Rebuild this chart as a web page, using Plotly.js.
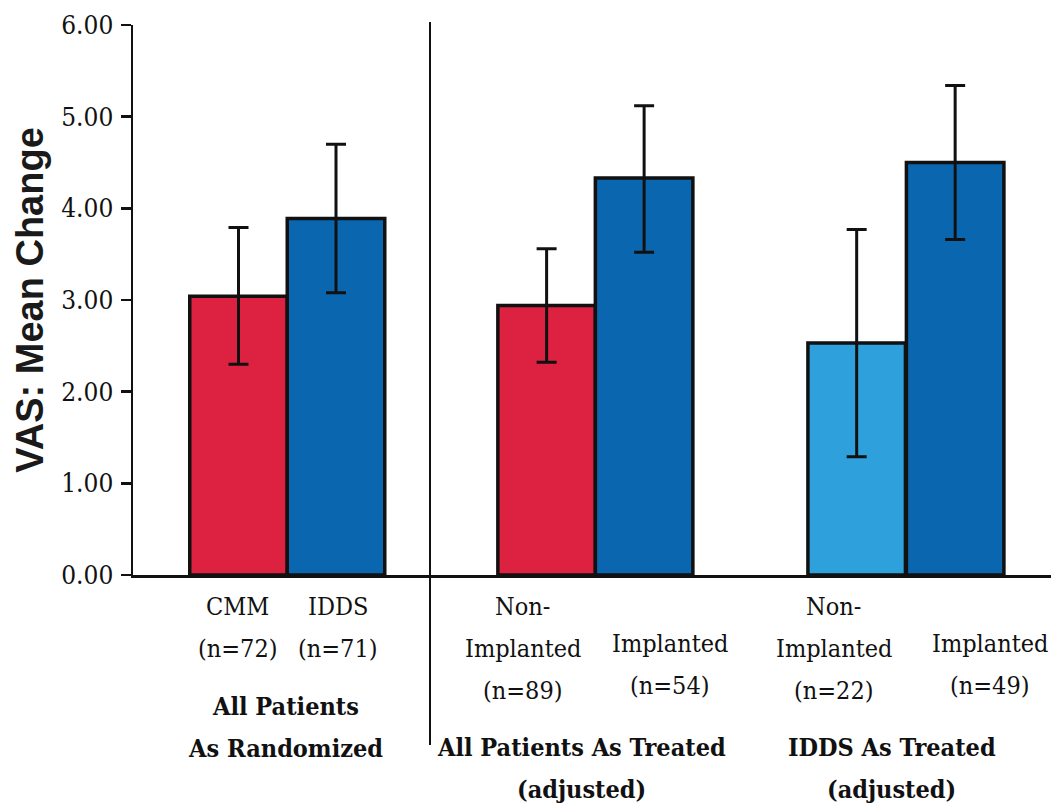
<!DOCTYPE html>
<html>
<head>
<meta charset="utf-8">
<script src="https://cdn.plot.ly/plotly-3.0.1.min.js"></script>
<style>
  html, body { margin: 0; padding: 0; background: #ffffff; }
  #chart { width: 1051px; height: 804px; }
</style>
</head>
<body>
<div id="chart"></div>
<script>
// ---------------- data ----------------
const categories = ["CMM", "IDDS", "Non-Implanted (all)", "Implanted (all)", "Non-Implanted (IDDS)", "Implanted (IDDS)"];
const labelLines = [["CMM"], ["IDDS"], ["Non-", "Implanted"], ["Implanted"], ["Non-", "Implanted"], ["Implanted"]];
const nCounts = [72, 71, 89, 54, 22, 49];
const meanChange = [3.04, 3.89, 2.94, 4.33, 2.53, 4.50];
const errPlus = [0.75, 0.81, 0.62, 0.79, 1.24, 0.84];
const errMinus = [0.74, 0.81, 0.62, 0.81, 1.24, 0.84];
const groupTitles = [["All Patients", "As Randomized"], ["All Patients As Treated", "(adjusted)"], ["IDDS As Treated", "(adjusted)"]];
const groupMembers = [[0, 1], [2, 3], [4, 5]];
const yTicks = [0, 1, 2, 3, 4, 5, 6];

// ---------------- layout / style ----------------
const barPos = [0, 1, 3.16, 4.16, 6.34, 7.35];        // bar centres in bar-width units
const barColors = ["#dd2140", "#0b66b0", "#dd2140", "#0b66b0", "#2ea1dc", "#0b66b0"];
const plotTopPx = 25, plotBottomPx = 575, plotH = plotBottomPx - plotTopPx;
const pxToPaper = py => (plotBottomPx - py) / plotH;
const labelShift = [-1, 2, -24, 26, -23, 35];
const labelFirstY = [606, 606, 606, 643, 606, 643];
const linePitch = 42;
const groupShift = [-2, -14, -14];
const groupFirstY = [706, 747, 747];
const dividerX = 1.964;

const serif = "DejaVu Serif Condensed, DejaVu Serif";
const sans = "Liberation Sans";

const trace = {
  type: "bar",
  x: barPos,
  y: meanChange,
  width: 1,
  text: categories,
  hoverinfo: "text+y",
  textposition: "none",
  marker: { color: barColors, line: { color: "#111111", width: 3.5 } },
  error_y: {
    type: "data", symmetric: false,
    array: errPlus, arrayminus: errMinus,
    color: "#111111", thickness: 3, width: 10
  },
  showlegend: false
};

const annotations = [];
labelLines.forEach((lines, i) => {
  const all = lines.concat(["(n=" + nCounts[i] + ")"]);
  all.forEach((t, k) => {
    annotations.push({
      x: barPos[i], xref: "x", xshift: labelShift[i],
      y: pxToPaper(labelFirstY[i] + k * linePitch), yref: "paper",
      text: t, showarrow: false, xanchor: "center", yanchor: "middle",
      font: { family: serif, size: 25, color: "#111111" }
    });
  });
});
groupTitles.forEach((lines, g) => {
  const mem = groupMembers[g];
  const cx = (barPos[mem[0]] + barPos[mem[mem.length - 1]]) / 2;
  lines.forEach((t, k) => {
    annotations.push({
      x: cx, xref: "x", xshift: groupShift[g],
      y: pxToPaper(groupFirstY[g] + k * linePitch), yref: "paper",
      text: "<b>" + t + "</b>", showarrow: false, xanchor: "center", yanchor: "middle",
      font: { family: serif, size: 25, color: "#111111" }
    });
  });
});

const layout = {
  width: 1051, height: 804,
  margin: { l: 133, r: 0, t: plotTopPx, b: 804 - plotBottomPx, pad: 0 },
  paper_bgcolor: "#ffffff", plot_bgcolor: "#ffffff",
  bargap: 0,
  xaxis: {
    range: [-1.082, 8.333],
    showticklabels: false, ticks: "", showgrid: false, zeroline: false,
    showline: true, linecolor: "#111111", linewidth: 2.5
  },
  yaxis: {
    range: [0, 6], tickvals: yTicks, tickformat: ".2f",
    ticks: "outside", ticklen: 10, tickwidth: 2.5, tickcolor: "#111111",
    ticklabelstandoff: 2,
    showgrid: false, zeroline: false,
    showline: true, linecolor: "#111111", linewidth: 2.5,
    tickfont: { family: serif, size: 26, color: "#111111" },
    title: {
      text: "<b>VAS: Mean Change</b>", standoff: 6,
      font: { family: sans, size: 38, color: "#1a1a1a" }
    }
  },
  shapes: [{
    type: "line", xref: "x", yref: "paper",
    x0: dividerX, x1: dividerX, y0: pxToPaper(22), y1: pxToPaper(745),
    line: { color: "#111111", width: 2 }
  }],
  annotations: annotations
};

Plotly.newPlot("chart", [trace], layout, { staticPlot: true, displayModeBar: false });
</script>
</body>
</html>
